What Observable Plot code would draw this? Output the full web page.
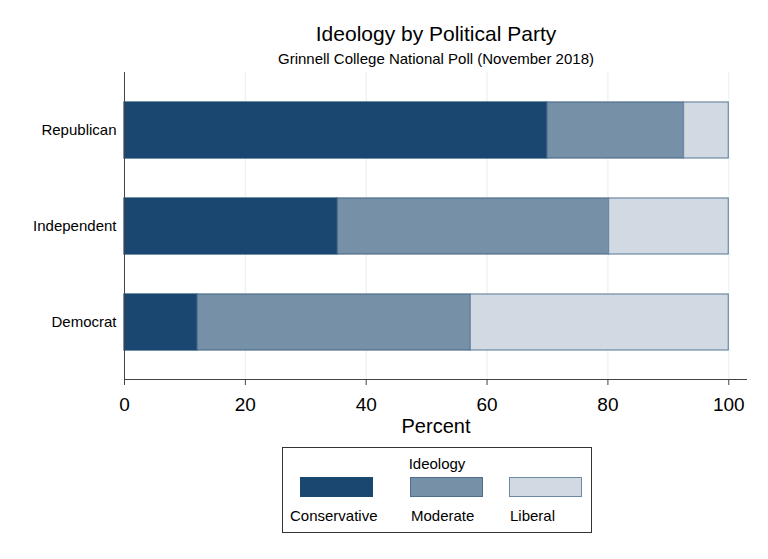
<!DOCTYPE html>
<html>
<head>
<meta charset="utf-8">
<script src="https://cdn.jsdelivr.net/npm/d3@7"></script>
<script src="https://cdn.jsdelivr.net/npm/@observablehq/plot@0.6"></script>
<style>
  html, body { margin: 0; padding: 0; background: #fff; }
  body { width: 768px; height: 559px; position: relative; overflow: hidden; font-family: "Liberation Sans", Arial, sans-serif; color: #000; }
  .abs { position: absolute; white-space: nowrap; line-height: 1; }
  #title { left: 104px; width: 664px; top: 23px; text-align: center; font-size: 21px; }
  #subtitle { left: 104px; width: 664px; top: 51px; text-align: center; font-size: 15px; }
  #chart { position: absolute; left: 0; top: 62px; }
  #xlabel { left: 104px; width: 664px; top: 416px; text-align: center; font-size: 20px; }
  #legendbox { position: absolute; left: 282px; top: 447px; width: 310px; height: 86px; box-sizing: border-box; border: 1px solid #333; }
  .leg { font-size: 15px; }
  .sw { position: absolute; box-sizing: border-box; border: 1px solid; width: 73px; height: 20px; }
</style>
</head>
<body>
<div id="title" class="abs">Ideology by Political Party</div>
<div id="subtitle" class="abs">Grinnell College National Poll (November 2018)</div>
<div id="chart"></div>
<div id="xlabel" class="abs">Percent</div>
<div id="legendbox"></div>
<div id="legend"></div>
<script>
// ---- data ----
const parties = ["Republican", "Independent", "Democrat"];
const ideologies = ["Conservative", "Moderate", "Liberal"];
const conservative = [70.0, 35.3, 12.1];
const moderate = [22.6, 44.9, 45.2];
const liberal = [7.4, 19.8, 42.7];
const xTicks = [0, 20, 40, 60, 80, 100];

// ---- styles ----
const fillColors = ["#1a476f", "#7690a8", "#d1dae3"];
const strokeColors = ["#1a476f", "#4f6e8d", "#6d89a4"];

const series = [conservative, moderate, liberal];
const rows = [];
ideologies.forEach((ideo, i) => {
  parties.forEach((p, j) => rows.push({party: p, ideology: ideo, value: series[i][j], k: i}));
});

const bottomLine = (index, scales, values, dims) => {
  const l = document.createElementNS("http://www.w3.org/2000/svg", "line");
  l.setAttribute("x1", dims.marginLeft);
  l.setAttribute("x2", dims.width - dims.marginRight);
  l.setAttribute("y1", dims.height - dims.marginBottom + 0.5);
  l.setAttribute("y2", dims.height - dims.marginBottom + 0.5);
  l.setAttribute("stroke", "#444");
  l.setAttribute("stroke-width", 1);
  return l;
};

const chart = Plot.plot({
  width: 768,
  height: 378,
  marginTop: 10,
  marginBottom: 61,
  marginLeft: 124,
  marginRight: 21,
  style: {fontFamily: "'Liberation Sans', Arial, sans-serif", fontSize: "15px", color: "#000", background: "transparent", overflow: "visible"},
  x: {domain: [0, 103.1]},
  y: {domain: parties, paddingInner: 0.4167, paddingOuter: 0.307},
  color: {type: "identity"},
  marks: [
    Plot.gridX(xTicks.slice(1), {stroke: "#eaf2f3", strokeOpacity: 1, strokeWidth: 1.2}),
    Plot.barX(rows, Plot.stackX({
      y: "party",
      x: "value",
      fill: d => fillColors[d.k],
      stroke: d => strokeColors[d.k],
      strokeWidth: 1.2
    })),
    Plot.ruleX([0], {stroke: "#444", strokeWidth: 1}),
    bottomLine,
    Plot.axisX({ticks: xTicks, tickSize: 6, tickPadding: 12, fontSize: 19, label: null, stroke: "#444"}),
    Plot.axisY({tickSize: 0, tickPadding: 8, fontSize: 15, label: null})
  ]
});
document.getElementById("chart").appendChild(chart);

// ---- legend ----
const legend = document.getElementById("legend");
const head = document.createElement("div");
head.className = "abs leg";
head.style.left = "282px"; head.style.width = "310px"; head.style.textAlign = "center";
head.style.top = "456px";
head.textContent = "Ideology";
legend.appendChild(head);
const swLeft = [300, 410, 509];
ideologies.forEach((ideo, i) => {
  const sw = document.createElement("div");
  sw.className = "sw";
  sw.style.left = swLeft[i] + "px";
  sw.style.top = "477px";
  sw.style.background = fillColors[i];
  sw.style.borderColor = strokeColors[i];
  legend.appendChild(sw);
  const t = document.createElement("div");
  t.className = "abs leg";
  t.style.left = (i === 0 ? 290 : swLeft[i] + 1) + "px";
  t.style.top = "508px";
  t.textContent = ideo;
  legend.appendChild(t);
});
</script>
</body>
</html>
